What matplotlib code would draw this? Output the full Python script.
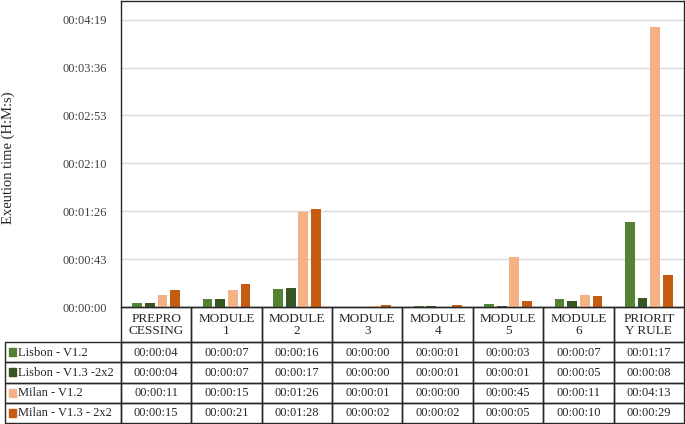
import matplotlib
matplotlib.use("Agg")
import matplotlib.pyplot as plt
from matplotlib.patches import Rectangle
from matplotlib.transforms import Affine2D
from matplotlib.ticker import FixedLocator, FuncFormatter
import numpy as np

plt.rcParams['font.family'] = ['Liberation Serif', 'DejaVu Serif']

categories = ["PREPRO\nCESSING", "MODULE\n1", "MODULE\n2", "MODULE\n3",
              "MODULE\n4", "MODULE\n5", "MODULE\n6", "PRIORIT\nY RULE"]
series_names = ["Lisbon - V1.2", "Lisbon - V1.3 -2x2", "Milan - V1.2", "Milan - V1.3 - 2x2"]
lisbon_v12 = ["00:00:04", "00:00:07", "00:00:16", "00:00:00", "00:00:01", "00:00:03", "00:00:07", "00:01:17"]
lisbon_v13 = ["00:00:04", "00:00:07", "00:00:17", "00:00:00", "00:00:01", "00:00:01", "00:00:05", "00:00:08"]
milan_v12 = ["00:00:11", "00:00:15", "00:01:26", "00:00:01", "00:00:00", "00:00:45", "00:00:11", "00:04:13"]
milan_v13 = ["00:00:15", "00:00:21", "00:01:28", "00:00:02", "00:00:02", "00:00:05", "00:00:10", "00:00:29"]
colors = ["#548235", "#375623", "#F4B183", "#C55A11"]
y_ticks_s = [0, 43.2, 86.4, 129.6, 172.8, 216.0, 259.2]

series = [lisbon_v12, lisbon_v13, milan_v12, milan_v13]


def to_sec(s):
    h, m, sec = s.split(":")
    return int(h) * 3600 + int(m) * 60 + int(sec)


def fmt(v, pos=None):
    t = int(round(v))
    return "%02d:%02d:%02d" % (t // 3600, (t % 3600) // 60, t % 60)


W, H = 685, 424
fig = plt.figure(figsize=(W / 100, H / 100), dpi=100)
ax_l, ax_r, ax_t, ax_b = 121, 684, 1, 307
ax = fig.add_axes([ax_l / W, 1 - ax_b / H, (ax_r - ax_l) / W, (ax_b - ax_t) / H])

x = np.arange(len(categories))
bw = 0.14
step = 0.18
for i, (vals, c) in enumerate(zip(series, colors)):
    secs = [to_sec(v) for v in vals]
    ax.bar(x + (i - 1.5) * step, secs, width=bw, color=c, edgecolor="none", zorder=3)

ax.set_xlim(-0.5, len(categories) - 0.5)
ax.set_ylim(0, 276)
ax.yaxis.set_major_locator(FixedLocator(y_ticks_s))
ax.yaxis.set_major_formatter(FuncFormatter(fmt))
ax.set_xticks([])
ax.tick_params(axis='y', length=0, pad=10, labelsize=9, labelcolor="#404040")
ax.grid(axis='y', color="#d9d9d9", linewidth=1, zorder=0)
for s in ax.spines.values():
    s.set_color("#262626")
    s.set_linewidth(1.0)
ax.set_ylabel("Exeution time (H:M:s)", fontsize=10.5, color="#262626")
ax.yaxis.set_label_coords((15 - ax_l) / (ax_r - ax_l), (ax_b - 158) / (ax_b - ax_t))

# data table drawn in pixel coordinates (origin top-left)
px = Affine2D().scale(1 / W, -1 / H).translate(0, 1) + fig.transFigure
lab_l = 5
col_w = (ax_r - ax_l) / len(categories)
head_b = 342
row_h = (423 - head_b) / len(series)
edge = "#262626"


def cell(x0, y0, w, h):
    fig.patches.append(Rectangle((x0, y0), w, h, transform=px, facecolor="none",
                                 edgecolor=edge, linewidth=1.0, zorder=4))


for j, cat in enumerate(categories):
    x0 = ax_l + j * col_w
    cell(x0, ax_b, col_w, head_b - ax_b)
    fig.text(x0 + col_w / 2, (ax_b + head_b) / 2 + 0.5, cat, transform=px, ha="center",
             va="center", fontsize=9.5, linespacing=1.0, color=edge)
for i, (name, vals) in enumerate(zip(series_names, series)):
    y0 = head_b + i * row_h
    cell(lab_l, y0, ax_l - lab_l, row_h)
    fig.patches.append(Rectangle((9, y0 + row_h / 2 - 4), 7, 8, transform=px,
                                 color=colors[i], zorder=5))
    fig.text(18, y0 + row_h / 2 + 0.5, name, transform=px, ha="left", va="center",
             fontsize=9, color=edge)
    for j, v in enumerate(vals):
        x0 = ax_l + j * col_w
        cell(x0, y0, col_w, row_h)
        fig.text(x0 + col_w / 2, y0 + row_h / 2 + 0.5, v, transform=px, ha="center",
                 va="center", fontsize=9, color=edge)

fig.savefig("out.png", dpi=100)
